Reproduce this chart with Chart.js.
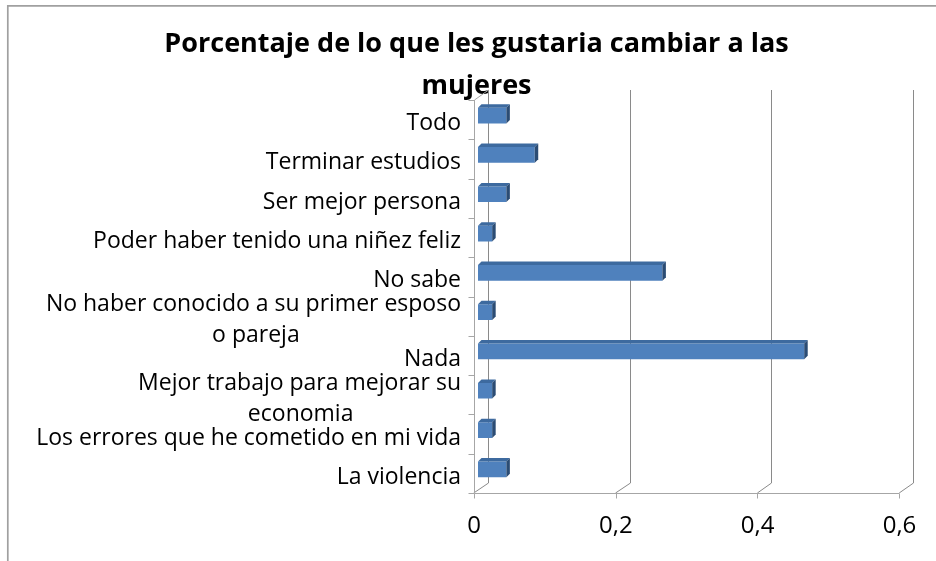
<!DOCTYPE html>
<html><head><meta charset="utf-8">
<script src="https://cdn.jsdelivr.net/npm/chart.js@4/dist/chart.umd.min.js"></script>
<style>html,body{margin:0;padding:0;background:#fff}#wrap{width:936px;height:561px}</style>
</head><body><div id="wrap"><canvas id="c" width="936" height="561"></canvas></div>
<script>
const titleLines = ['Porcentaje de lo que les gustaria cambiar a las', 'mujeres'];
const categories = [
  'Todo',
  'Terminar estudios',
  'Ser mejor persona',
  'Poder haber tenido una niñez feliz',
  'No sabe',
  ['No haber conocido a su primer esposo', 'o pareja'],
  'Nada',
  ['Mejor trabajo para mejorar su', 'economia'],
  'Los errores que he cometido en mi vida',
  'La violencia'
];
const values = [0.04, 0.08, 0.04, 0.02, 0.26, 0.02, 0.46, 0.02, 0.02, 0.04];
const xTickValues = [0, 0.2, 0.4, 0.6];
const xTickLabels = ['0', '0,2', '0,4', '0,6'];

const LABEL_SIZE = 23;
const mctx = document.createElement('canvas').getContext('2d');
mctx.font = LABEL_SIZE + 'px "Open Sans"';
function centred(lbl) {
  if (!Array.isArray(lbl)) return lbl;
  const w0 = mctx.measureText(lbl[0]).width;
  const sp = mctx.measureText('\u00A0').width;
  return lbl.map((l, i) => i === 0 ? l :
    l + '\u00A0'.repeat(Math.max(0, Math.round((w0 - mctx.measureText(l).width) / 2 / sp))));
}

const TITLE_SHIFT = 19.75;
const FRONT = {dx: -4.3, dy: 4}, BACK = {dx: 9.7, dy: -6}, BAR_DEPTH = 3.5;
const frame3d = {
  id: 'frame3d',
  afterLayout(chart) {
    const t = chart.titleBlock;
    if (t) { t.left += TITLE_SHIFT; t.right += TITLE_SHIFT; }
  },
  beforeDraw(chart) {
    const c = chart.ctx;
    c.save();
    c.fillStyle = '#fff';
    c.fillRect(0, 0, chart.width, chart.height);
    c.strokeStyle = '#a0a0a0';
    c.lineWidth = 1.7;
    c.beginPath();
    c.moveTo(7.8, chart.height); c.lineTo(7.8, 5.8); c.lineTo(chart.width, 5.8);
    c.stroke();
    c.restore();
  },
  beforeDatasetsDraw(chart) {
    const c = chart.ctx, xs = chart.scales.x, ys = chart.scales.y, a = chart.chartArea;
    c.save();
    c.lineWidth = 1;
    c.strokeStyle = '#8a8a8a';
    xTickValues.forEach(v => {
      const px = xs.getPixelForValue(v);
      const bx = Math.round(px + BACK.dx) + 0.5;
      c.beginPath();
      c.moveTo(bx, a.top + BACK.dy);
      c.lineTo(bx, a.bottom + BACK.dy);
      c.lineTo(px + FRONT.dx, a.bottom + FRONT.dy);
      c.stroke();
    });
    c.strokeStyle = '#a6a6a6';
    const fx = Math.round(a.left + FRONT.dx) + 0.5;
    const fy = Math.round(a.bottom + FRONT.dy) + 0.5;
    c.beginPath();
    c.moveTo(Math.round(a.left + BACK.dx) + 0.5, a.top + BACK.dy);
    c.lineTo(fx, a.top + FRONT.dy);
    c.lineTo(fx, fy);
    c.lineTo(xs.getPixelForValue(xTickValues[xTickValues.length - 1]) + FRONT.dx, fy);
    c.stroke();
    const n = categories.length, band = (ys.bottom - ys.top) / n;
    c.beginPath();
    for (let k = 0; k <= n; k++) {
      const y = Math.round(ys.top + k * band + FRONT.dy) + 0.5;
      c.moveTo(fx - 6, y); c.lineTo(fx, y);
    }
    xTickValues.forEach(v => {
      const x = Math.round(xs.getPixelForValue(v) + FRONT.dx) + 0.5;
      c.moveTo(x, fy); c.lineTo(x, fy + 5);
    });
    c.stroke();
    c.restore();
  },
  afterDatasetsDraw(chart) {
    const c = chart.ctx;
    const meta = chart.getDatasetMeta(0);
    c.save();
    meta.data.forEach(bar => {
      const {x, y, base, height} = bar.getProps(['x', 'y', 'base', 'height'], true);
      const top = y - height / 2, bot = y + height / 2, d = BAR_DEPTH;
      c.fillStyle = '#3d6a9f';
      c.beginPath();
      c.moveTo(base, top); c.lineTo(base + d, top - d); c.lineTo(x + d, top - d); c.lineTo(x, top);
      c.closePath(); c.fill();
      c.fillStyle = '#2b4c74';
      c.beginPath();
      c.moveTo(x, top); c.lineTo(x + d, top - d); c.lineTo(x + d, bot - d); c.lineTo(x, bot);
      c.closePath(); c.fill();
    });
    c.restore();
  }
};

new Chart(document.getElementById('c').getContext('2d'), {
  type: 'bar',
  data: {
    labels: categories,
    datasets: [{
      data: values,
      backgroundColor: '#4f81bd',
      borderWidth: 0,
      categoryPercentage: 1,
      barPercentage: 0.4
    }]
  },
  options: {
    indexAxis: 'y',
    responsive: false,
    animation: false,
    devicePixelRatio: 1,
    layout: {padding: {left: 10, right: 32.5, top: 0, bottom: 0}},
    plugins: {
      legend: {display: false},
      tooltip: {enabled: false},
      title: {
        display: true,
        text: titleLines,
        color: '#000',
        font: {family: '"Open Sans"', size: 27, weight: 'bold', lineHeight: 42 / 27},
        padding: {top: 23, bottom: -11}
      }
    },
    scales: {
      x: {
        min: 0, max: 0.6,
        grid: {display: false},
        border: {display: false},
        afterBuildTicks: s => { s.ticks = xTickValues.map(v => ({value: v})); },
        afterFit: s => { s.height = 72; },
        ticks: {
          callback: (v, i) => xTickLabels[i],
          font: {family: '"Open Sans"', size: 24},
          color: '#000',
          padding: 15,
          labelOffset: -4,
          maxRotation: 0,
          autoSkip: false
        }
      },
      y: {
        grid: {display: false},
        border: {display: false},
        afterFit: s => { s.width = 468; },
        ticks: {
          autoSkip: false,
          callback: (v, i) => centred(categories[i]),
          font: {family: '"Open Sans"', size: LABEL_SIZE, lineHeight: 1.37},
          color: '#000',
          padding: 9,
          labelOffset: 8
        }
      }
    }
  },
  plugins: [frame3d]
});
</script>
</body></html>
